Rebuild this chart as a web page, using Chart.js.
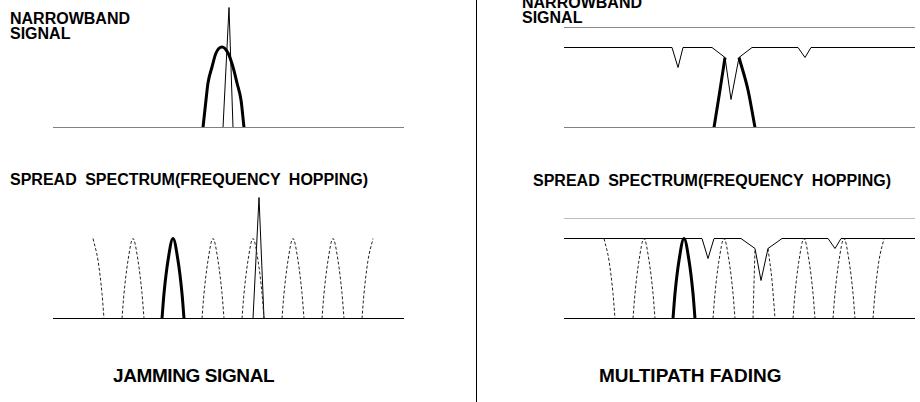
<!DOCTYPE html>
<html>
<head>
<meta charset="utf-8">
<script src="https://cdn.jsdelivr.net/npm/chart.js@4.4.1/dist/chart.umd.min.js"></script>
<style>
  html, body { margin: 0; padding: 0; background: #fff; }
  body {
    width: 920px; height: 402px; position: relative; overflow: hidden;
    font-family: "Liberation Sans", Arial, sans-serif; font-weight: bold; color: #000;
  }
  canvas { position: absolute; }
  .lbl { position: absolute; font-size: 16px; line-height: 15px; white-space: nowrap; word-spacing: 4px; }
  .cap { position: absolute; font-size: 19px; line-height: 19px; white-space: nowrap; }
  #divider { position: absolute; left: 476px; top: 0; width: 1px; height: 402px; background: #000; }
</style>
</head>
<body>
<div id="divider"></div>

<div class="lbl" style="left:10px;top:11px">NARROWBAND<br>SIGNAL</div>
<div class="lbl" style="left:522px;top:-5px">NARROWBAND<br>SIGNAL</div>
<div class="lbl" style="left:10px;top:172px">SPREAD SPECTRUM(FREQUENCY HOPPING)</div>
<div class="lbl" style="left:533px;top:173px">SPREAD SPECTRUM(FREQUENCY HOPPING)</div>
<div class="cap" style="left:113px;top:366px;letter-spacing:-0.4px">JAMMING SIGNAL</div>
<div class="cap" style="left:599px;top:366px">MULTIPATH FADING</div>

<canvas id="jamNarrow" width="352" height="136" style="left:53px;top:0"></canvas>
<canvas id="fadeNarrow" width="352" height="136" style="left:564px;top:0"></canvas>
<canvas id="jamHop" width="352" height="136" style="left:53px;top:191px"></canvas>
<canvas id="fadeHop" width="352" height="136" style="left:564px;top:191px"></canvas>

<script>
// frequency axis (same span on all four panels)
var axisX = [0, 351];
var axisY = [0, 0];

// narrowband signal
var nbX = [150, 153, 155, 159, 163, 169, 175, 180, 184, 188, 191];
var nbY = [0, 27.5, 44.5, 60.5, 74.5, 80.5, 74.5, 60.5, 44.5, 27.5, 0];

// jammer spikes
var jamNarrowX = [170, 176, 180];
var jamNarrowY = [0, 120, 0];
var jamHopX = [200, 206, 211];
var jamHopY = [0, 121, 0];

// hop channels: centres and one channel's arch (offset from centre, level)
var hopCenters = [40, 80, 120, 160, 200, 240, 280, 320];
var activeHop = 2;
var archOffsets = [-11, -9, -5, 0, 5, 9, 11];
var archLevels = [0, 25, 58, 80, 58, 25, 0];

// multipath: reference level and the faded received level
var refLevel = 100;
var fadeNarrowX = [0, 108, 114, 119, 148, 161, 167, 175, 188, 234, 241, 247, 351];
var fadeNarrowY = [80, 80, 60, 80, 80, 70, 28, 70, 80, 80, 70, 80, 80];
var fadeHopX = [0, 138, 144, 150, 177, 191, 197, 204, 218, 264, 271, 277, 351];
var fadeHopY = [80, 80, 60, 80, 80, 70, 38, 70, 80, 80, 70, 80, 80];

// parts of signals left visible under the fade
var nbFadedLeftX = [150, 156, 161];
var nbFadedLeftY = [0, 37.5, 70];
var nbFadedRightX = [175, 184, 191];
var nbFadedRightY = [70, 37.5, 0];
var hopFadedLeftX = [189, 190, 191];
var hopFadedLeftY = [0, 35, 70];
var hopFadedRightX = [204, 208, 211];
var hopFadedRightY = [70, 38, 0];

function pts(xs, ys) {
  return xs.map(function (x, i) { return { x: x, y: ys[i] }; });
}

function line(xs, ys, color, width, dash, curved) {
  return {
    data: pts(xs, ys),
    borderColor: color,
    borderWidth: width,
    borderDash: dash || [],
    pointRadius: 0,
    fill: false,
    tension: curved ? 0.4 : 0,
    cubicInterpolationMode: curved ? "monotone" : "default",
    clip: false,
  };
}

// one arch per hop channel; end channels only show their inner half
function hopArches(skip) {
  var sets = [];
  hopCenters.forEach(function (c, i) {
    if (i === skip) return;
    var xs = [], ys = [];
    archOffsets.forEach(function (o, k) {
      if (i === 0 && o < 0) return;
      if (i === hopCenters.length - 1 && o > 0) return;
      xs.push(c + o);
      ys.push(archLevels[k]);
    });
    if (i === activeHop) sets.push(line(xs, ys, "#000", 3, null, true));
    else sets.push(line(xs, ys, "#222", 1, [3, 2], true));
  });
  return sets;
}

function panel(id, datasets) {
  new Chart(document.getElementById(id), {
    type: "line",
    data: { datasets: datasets },
    options: {
      responsive: false,
      animation: false,
      devicePixelRatio: 1,
      events: [],
      layout: { padding: 0 },
      plugins: { legend: { display: false }, tooltip: { enabled: false } },
      scales: {
        x: { type: "linear", min: 0, max: 352, display: false },
        y: { type: "linear", min: -8.5, max: 127.5, display: false },
      },
    },
  });
}

panel("jamNarrow", [
  line(axisX, axisY, "#808080", 1),
  line(nbX, nbY, "#000", 3, null, true),
  line(jamNarrowX, jamNarrowY, "#000", 1),
]);

panel("fadeNarrow", [
  line(axisX, axisY, "#808080", 1),
  line(axisX, [refLevel, refLevel], "#8a8a8a", 1),
  line(fadeNarrowX, fadeNarrowY, "#000", 1),
  line(nbFadedLeftX, nbFadedLeftY, "#000", 3, null, true),
  line(nbFadedRightX, nbFadedRightY, "#000", 3, null, true),
]);

panel("jamHop", [line(axisX, axisY, "#000", 1)]
  .concat(hopArches(-1))
  .concat([line(jamHopX, jamHopY, "#000", 1)]));

panel("fadeHop", [
  line(axisX, axisY, "#000", 1),
  line(axisX, [refLevel, refLevel], "#bdbdbd", 1),
  line(fadeHopX, fadeHopY, "#000", 1),
].concat(hopArches(4)).concat([
  line(hopFadedLeftX, hopFadedLeftY, "#222", 1, [3, 2], true),
  line(hopFadedRightX, hopFadedRightY, "#222", 1, [3, 2], true),
]));
</script>
</body>
</html>
